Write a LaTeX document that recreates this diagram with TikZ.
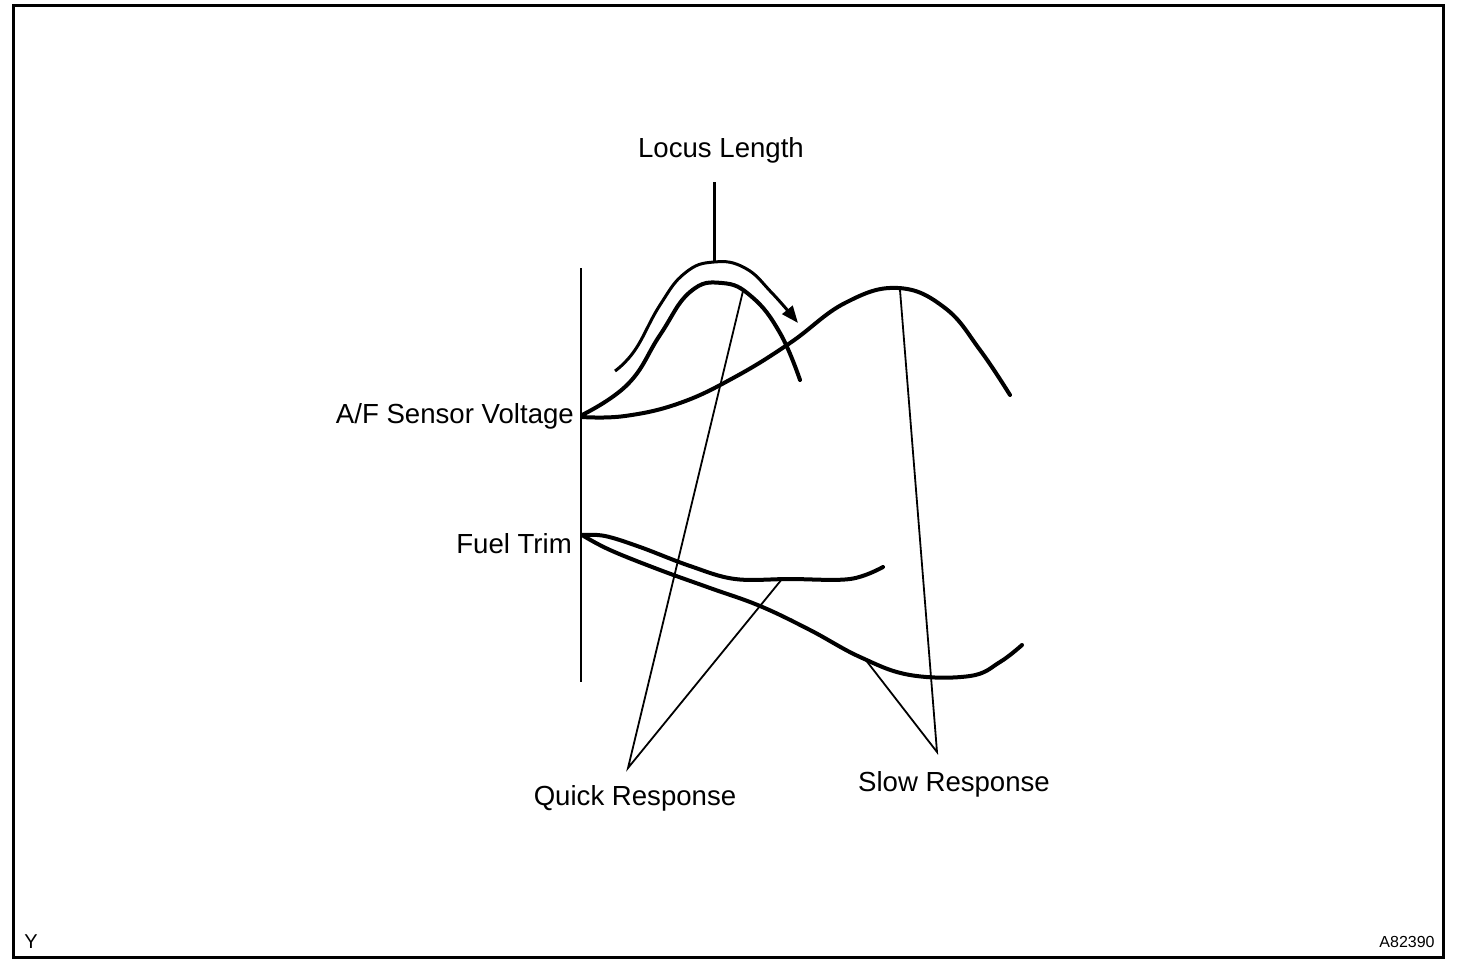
\documentclass[tikz,border=0pt]{standalone}
\usepackage{fontspec}
\setmainfont{Liberation Sans}
\usetikzlibrary{arrows.meta, positioning}

\begin{document}
\begin{tikzpicture}[x=1pt, y=-1pt]
	\tikzstyle{lbl}=[inner sep=0pt, anchor=base, font=\fontsize{27.6}{32}\selectfont]
	\tikzstyle{wave}=[line width=4pt, line cap=round]
	\tikzstyle{lead}=[line width=1.8pt]
	
	\useasboundingbox (0,0) rectangle (1472,966);
	\draw[line width=3pt] (13.5,5.5) rectangle (1443,957.5);
	
	% labels
	\node[lbl] (locus) at (721,157) {Locus Length};
	\node[lbl, anchor=base east] (afs) at (574,423) {A/F Sensor Voltage};
	\node[lbl, anchor=base east] (trim) at (572,553) {Fuel Trim};
	\node[lbl] (quick) at (635,805) {Quick Response};
	\node[lbl] (slow) at (954,791) {Slow Response};
	\node[inner sep=0pt, anchor=base, font=\fontsize{20}{24}\selectfont] (ycode) at (31,948) {Y};
	\node[inner sep=0pt, anchor=base, font=\fontsize{16}{20}\selectfont] (fig) at (1407,947) {A82390};
	
	% axis
	\coordinate (top) at (581,268);
	\coordinate (bot) at (581,682);
	\draw[lead] (top) -- (bot);
	
	% sensor voltage
	\draw[wave] plot[smooth, tension=0.75] coordinates {(582,415) (628,384) (660,335) (690,292) (722,283) (752,297) (780,333) (800,380)};
	\draw[wave] plot[smooth, tension=0.7] coordinates {(582,417) (625,416) (680,403) (735,377) (790,343) (845,303) (898,288) (945,308) (980,350) (1010,395)};
	
	% fuel trim
	\draw[wave] plot[smooth, tension=0.6] coordinates {(582,535) (605,536) (640,547) (690,566) (735,579) (790,579) (850,579) (883,567)};
	\draw[wave] plot[smooth, tension=0.65] coordinates {(582,535) (610,550) (660,570) (710,588) (760,606) (810,630) (860,657) (910,675) (970,676) (1000,662) (1022,645)};
	
	% locus arrow
	\coordinate (lfoot) at (714,182);
	\coordinate (ltop) at (714,262);
	\draw[line width=3pt] (lfoot) -- (ltop);
	\draw[line width=3pt, -{Triangle[length=17pt, width=13pt]}] plot[smooth, tension=0.75] coordinates {(615,371) (635,350) (660,305) (685,273) (714,262) (745,268) (772,293) (798,323)};
	
	% leaders
	\coordinate (qpeak) at (743,291);
	\coordinate (qtrim) at (782,579);
	\coordinate (qfoot) at (628,768);
	\coordinate (speak) at (900,290);
	\coordinate (strim) at (865,659);
	\coordinate (sfoot) at (937,752);
	\draw[lead] (qpeak) -- (qfoot) -- (qtrim);
	\draw[lead] (speak) -- (sfoot) -- (strim);
\end{tikzpicture}
\end{document}
